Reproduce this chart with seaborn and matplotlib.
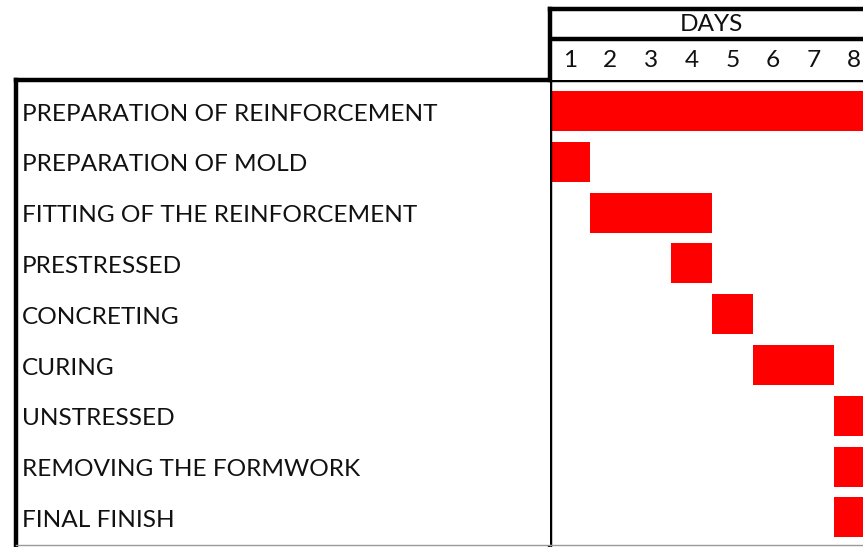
import matplotlib
matplotlib.use("Agg")
import matplotlib.pyplot as plt
import seaborn as sns
import pandas as pd

# Données du planning (jours de début et de fin, inclus)
tasks = [
    "PREPARATION OF REINFORCEMENT",
    "PREPARATION OF MOLD",
    "FITTING OF THE REINFORCEMENT",
    "PRESTRESSED",
    "CONCRETING",
    "CURING",
    "UNSTRESSED",
    "REMOVING THE FORMWORK",
    "FINAL FINISH",
]
start_day = [1, 1, 2, 4, 5, 6, 8, 8, 8]
end_day = [8, 1, 4, 4, 5, 7, 8, 8, 8]
days = [1, 2, 3, 4, 5, 6, 7, 8]
header_title = "DAYS"

df = pd.DataFrame({"task": tasks, "start": start_day, "end": end_day})
df["left"] = df["start"] - 1
df["duration"] = df["end"] - df["start"] + 1

sns.set_theme(style="white")
plt.rcParams["font.family"] = ["Lato", "DejaVu Sans"]

W, H = 863, 547
fig = plt.figure(figsize=(W / 100, H / 100), dpi=100)


def px_axes(x0, y0, x1, y1):
    # axes placé en pixels (origine en haut à gauche)
    return fig.add_axes([x0 / W, 1 - y1 / H, (x1 - x0) / W, (y1 - y0) / H])


LW = 3.2  # épaisseur des bordures du tableau
FS = 17.6
TXT = "#111111"

# Zone du diagramme de Gantt
ax = px_axes(549.5, 80, 863, 545)
sns.barplot(
    data=df, x="duration", y="task", orient="h", ax=ax,
    left=df["left"], color="#ff0000", saturation=1, width=0.79,
    errorbar=None, linewidth=0,
)
ax.set_xlim(0, 7.72)
ax.set_ylim(8.543, -0.610)
ax.set_xlabel("")
ax.set_ylabel("")
ax.set_xticks([])
ax.set_yticks([])
for side in ["left", "top"]:
    ax.spines[side].set_linewidth(LW)
    ax.spines[side].set_color("black")
ax.spines["right"].set_visible(False)
ax.spines["bottom"].set_color("#9a9a9a")
ax.spines["bottom"].set_linewidth(1)

# Colonne des tâches
ax_lab = px_axes(16, 80, 549.5, 545)
ax_lab.set_ylim(ax.get_ylim())
ax_lab.set_xticks([])
ax_lab.set_yticks([])
for side in ["left", "top"]:
    ax_lab.spines[side].set_linewidth(LW)
    ax_lab.spines[side].set_color("black")
ax_lab.spines["right"].set_visible(False)
ax_lab.spines["bottom"].set_color("#9a9a9a")
ax_lab.spines["bottom"].set_linewidth(1)
for i, t in enumerate(tasks):
    ax_lab.text(6 / 533.5, i + 0.19, t, transform=ax_lab.get_yaxis_transform(),
                ha="left", va="baseline", fontsize=FS, color=TXT)

# En-tête des jours
ax_head = px_axes(549.5, 9, 863, 80)
ax_head.set_xlim(ax.get_xlim())
ax_head.set_ylim(0, 1)
ax_head.set_xticks([])
ax_head.set_yticks([])
for side in ["left", "top"]:
    ax_head.spines[side].set_linewidth(LW)
    ax_head.spines[side].set_color("black")
ax_head.spines["right"].set_visible(False)
ax_head.spines["bottom"].set_visible(False)
ax_head.axhline(0.577, color="black", linewidth=LW)
ax_head.text(len(days) / 2, 0.78, header_title, ha="center", va="center",
             fontsize=FS, color=TXT)
for d in days:
    ax_head.text(d - 0.5, 0.27, str(d), ha="center", va="center",
                 fontsize=FS, color=TXT)

plt.savefig("out.png", dpi=100)
